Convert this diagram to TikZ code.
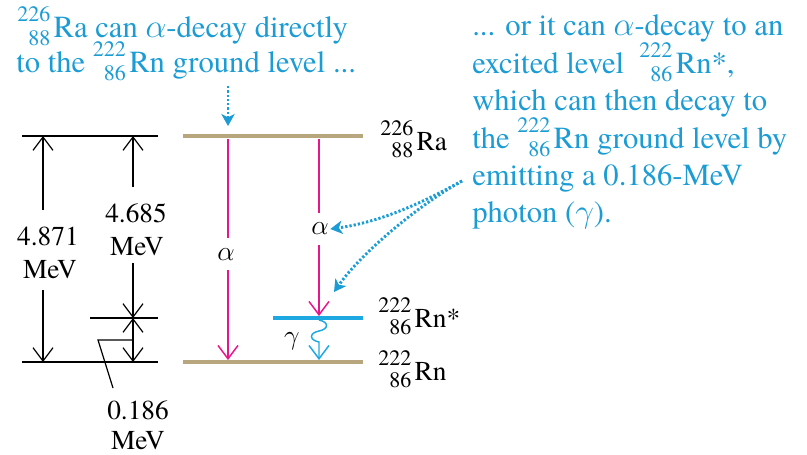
\documentclass[tikz,border=0pt]{standalone}
\usepackage{fontspec}
\setmainfont{TeX Gyre Termes}
\usetikzlibrary{arrows.meta}
\definecolor{txtblue}{RGB}{28,156,212}
\definecolor{lvlblue}{RGB}{30,168,226}
\definecolor{lvltan}{RGB}{183,166,126}
\definecolor{alphamag}{RGB}{232,22,138}
\newsavebox\nucsup
\newsavebox\nucsub
\newlength\nucw
\newcommand\nuc[3]{\mbox{\sbox\nucsup{\fontsize{16.5}{16.5}\selectfont #1}%
\sbox\nucsub{\fontsize{16.5}{16.5}\selectfont #2}%
\ifdim\wd\nucsup>\wd\nucsub \setlength\nucw{\wd\nucsup}\else\setlength\nucw{\wd\nucsub}\fi
\makebox[\nucw][r]{\raisebox{0.52em}{\usebox\nucsup}}\llap{\raisebox{-0.29em}{\usebox\nucsub}}\kern2.5pt #3}}
\newcommand\gra{\ensuremath{\alpha}}
\newcommand\grg{\ensuremath{\gamma}}
\begin{document}
\begin{tikzpicture}[x=0.75pt,y=-0.75pt,
  lvl/.style={draw=lvltan,line width=3.6pt},
  exlvl/.style={draw=lvlblue,line width=3pt},
  dimline/.style={draw=black,line width=0.9pt},
  dimarrow/.style={dimline,-{Straight Barb[length=10pt,width=15pt,line width=0.9pt]}},
  dimboth/.style={dimline,{Straight Barb[length=10pt,width=15pt,line width=0.9pt]}-{Straight Barb[length=10pt,width=15pt,line width=0.9pt]}},
  alphaline/.style={draw=alphamag,line width=1.1pt},
  alphaarrow/.style={alphaline,-{Straight Barb[length=10pt,width=15pt,line width=1.1pt]}},
  gammaarrow/.style={draw=lvlblue,line width=1.1pt,-{Straight Barb[length=10pt,width=15pt,line width=1.1pt]}},
  pointer/.style={draw=txtblue,line width=2.2pt,dash pattern=on 1.7pt off 1.5pt,-{Stealth[length=9pt,width=10pt,inset=2.5pt]}},
  bluetext/.style={text=txtblue,anchor=base west,inner sep=0pt,font=\fontsize{23}{27.6}\selectfont},
  blacktext/.style={text=black,anchor=base,inner sep=0pt,font=\fontsize{20.5}{24.6}\selectfont},
  lbltext/.style={text=black,anchor=base west,inner sep=0pt,font=\fontsize{20.5}{24.6}\selectfont},
  greek/.style={inner sep=1pt,font=\fontsize{20.5}{24.6}\selectfont}
]
\useasboundingbox (0,0) rectangle (807,454);
% energy levels
\coordinate (RaL) at (183,136); \coordinate (RaR) at (363,136);
\coordinate (RnL) at (183,362); \coordinate (RnR) at (363,362);
\coordinate (RnsL) at (273,318); \coordinate (RnsR) at (363,318);
\draw[lvl] (RaL) -- (RaR);
\draw[lvl] (RnL) -- (RnR);
\draw[exlvl] (RnsL) -- (RnsR);
% level labels
\node[lbltext] (labRa) at (380,150) {\nuc{226}{88}{Ra}};
\node[lbltext] (labRns) at (378,327) {\nuc{222}{86}{Rn*}};
\node[lbltext] (labRn) at (378,380) {\nuc{222}{86}{Rn}};
% alpha transitions
\node[greek] (al1) at (226,255) {\gra};
\node[greek] (al2) at (320,229) {\gra};
\coordinate (a1s) at (228,139); \coordinate (a1m) at (228,238);
\coordinate (a1n) at (228,270); \coordinate (a1e) at (228,360);
\coordinate (a2s) at (319,139); \coordinate (a2m) at (319,213);
\coordinate (a2n) at (319,245); \coordinate (a2e) at (319,316);
\draw[alphaline] (a1s) -- (a1m);
\draw[alphaarrow] (a1n) -- (a1e);
\draw[alphaline] (a2s) -- (a2m);
\draw[alphaarrow] (a2n) -- (a2e);
% gamma transition
\node[greek] (gam) at (292,341) {\grg};
\coordinate (g0) at (319,320); \coordinate (g1) at (319,331);
\coordinate (g2) at (319,342); \coordinate (g3) at (319,360);
\draw[gammaarrow] (g0) .. controls (329,322) and (329,329) .. (g1)
  .. controls (309,333) and (309,340) .. (g2) -- (g3);
% left energy scale
\coordinate (tL) at (22,136); \coordinate (tR) at (158,136);
\coordinate (bL) at (22,362); \coordinate (bR) at (158,362);
\coordinate (mL) at (90,318); \coordinate (mR) at (158,318);
\draw[dimline] (tL) -- (tR);
\draw[dimline] (bL) -- (bR);
\draw[dimline] (mL) -- (mR);
\node[blacktext] (e1a) at (48,245) {4.871};
\node[blacktext] (e1b) at (50,278) {MeV};
\node[blacktext] (e2a) at (136,222) {4.685};
\node[blacktext] (e2b) at (137,255) {MeV};
\node[blacktext] (e3a) at (138,419) {0.186};
\node[blacktext] (e3b) at (138,449) {MeV};
\coordinate (d1a) at (43,210); \coordinate (d1t) at (43,136);
\coordinate (d1b) at (43,290); \coordinate (d1e) at (43,362);
\coordinate (d2a) at (133,187); \coordinate (d2t) at (133,136);
\coordinate (d2b) at (133,263); \coordinate (d2e) at (133,318);
\coordinate (d3e) at (133,362);
\draw[dimarrow] (d1a) -- (d1t);
\draw[dimarrow] (d1b) -- (d1e);
\draw[dimarrow] (d2a) -- (d2t);
\draw[dimarrow] (d2b) -- (d2e);
\draw[dimboth] (d2e) -- (d3e);
\coordinate (ld0) at (133,340); \coordinate (ld1) at (98,340); \coordinate (ld2) at (113,388);
\draw[dimline] (ld0) -- (ld1) -- (ld2);
% blue annotations
\node[bluetext] (t1a) at (17,37) {\nuc{226}{88}{Ra} can \gra-decay directly};
\node[bluetext] (t1b) at (16,72) {to the \nuc{222}{86}{Rn} ground level ...};
\node[bluetext] (t2a) at (472,35) {... or it can \gra-decay to an};
\node[bluetext] (t2b) at (472,73) {excited level \ \nuc{222}{86}{Rn*},};
\node[bluetext] (t2c) at (472,110) {which can then decay to};
\node[bluetext] (t2d) at (472,148) {the \nuc{222}{86}{Rn} ground level by};
\node[bluetext] (t2e) at (472,185) {emitting a 0.186-MeV};
\node[bluetext] (t2f) at (472,222) {photon (\grg).};
% pointers
\coordinate (p1s) at (228,86); \coordinate (p1e) at (228,126);
\draw[pointer] (p1s) -- (p1e);
\coordinate (p2s) at (462,181);
\draw[pointer] (p2s) .. controls (420,204) and (380,222) .. (al2.east);
\draw[pointer] (p2s) .. controls (420,204) and (362,252) .. (334,292);
\end{tikzpicture}
\end{document}
